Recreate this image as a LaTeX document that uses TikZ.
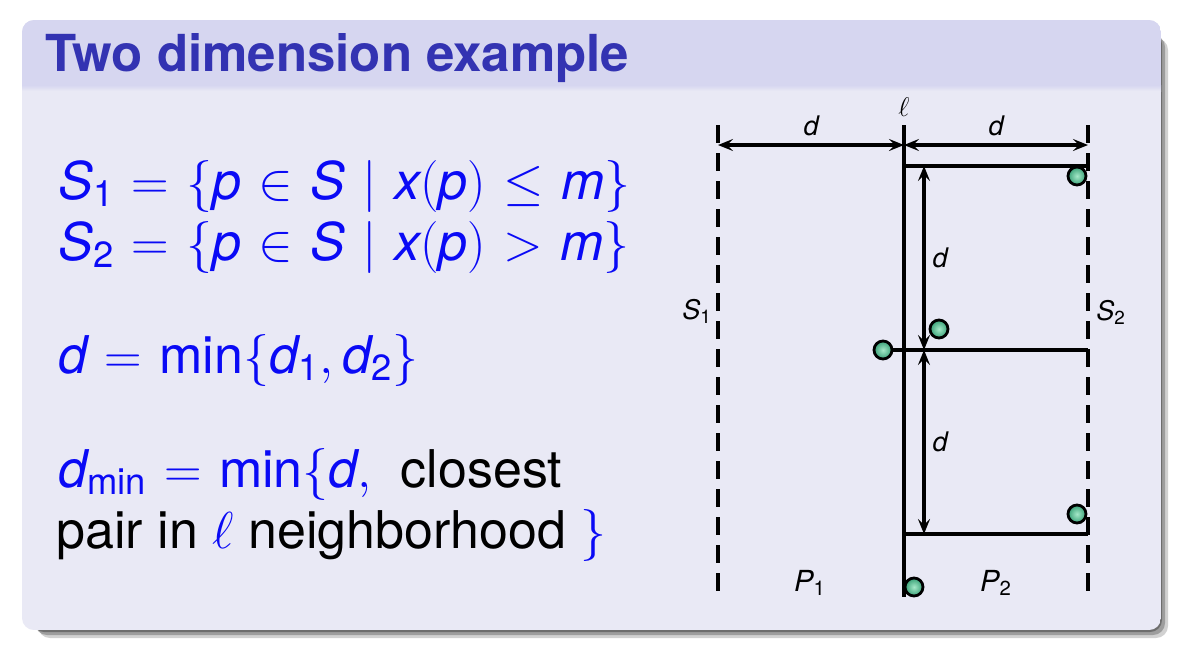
\RequirePackage{fix-cm}
\documentclass[tikz,border=0pt]{standalone}
\usepackage{amsmath}
\usepackage{fontspec}
\setmainfont{TeX Gyre Heros}
\usetikzlibrary{arrows.meta}

\definecolor{blockbody}{RGB}{233,233,245}
\definecolor{blocktitle}{RGB}{214,214,240}
\definecolor{titlefg}{RGB}{51,51,178}
\definecolor{formblue}{RGB}{10,10,245}
\definecolor{ptouter}{RGB}{55,160,118}
\definecolor{ptinner}{RGB}{165,232,200}

\newcommand{\iv}[1]{\text{\itshape #1}}
\newcommand{\uv}[1]{\text{#1}}
\thickmuskip=6mu plus 5mu\relax

\begin{document}
\begin{tikzpicture}[x=0.5pt,y=-0.5pt,
        sepline/.style={line width=2pt,dash pattern=on 9pt off 5pt},
        mline/.style={line width=2pt},
        dimarrow/.style={line width=2pt,{Stealth[length=7.5pt,width=6pt,inset=3pt]}-{Stealth[length=7.5pt,width=6pt,inset=3pt]}},
        pt/.style={circle,draw,line width=1.4pt,minimum size=9pt,inner sep=0pt,inner color=ptinner,outer color=ptouter},
        lbl/.style={font=\fontsize{13.5}{16}\selectfont},
        eq/.style={anchor=base west,inner sep=0pt,font=\fontsize{26}{31}\selectfont,text=formblue}]

    \useasboundingbox (0,0) rectangle (1178,650);

    % block with shadow
    \foreach \o/\op in {2/0.30,5/0.25,8/0.18}
        \fill[black,opacity=\op,rounded corners=6pt] (30+\o,30+\o) rectangle (1160+\o,630+\o);
    \begin{scope}
        \clip[rounded corners=6pt] (22,20) rectangle (1161,630);
        \fill[blockbody] (22,20) rectangle (1161,630);
        \fill[blocktitle] (22,20) rectangle (1161,85);
        \shade[top color=blocktitle,bottom color=blockbody] (22,85) rectangle (1161,91);
    \end{scope}

    \node[anchor=base west,inner sep=0pt,text=titlefg,font=\fontsize{25.5}{30}\selectfont\bfseries] (title) at (45,71) {Two dimension example};

    % formulas
    \node[eq] (eqa) at (58,199) {$\iv{S}_{\uv{1}} = \{\iv{p} \in \iv{S} \mid \iv{x}(\iv{p}) \leq \iv{m}\}$};
    \node[eq] (eqb) at (58,260) {$\iv{S}_{\uv{2}} = \{\iv{p} \in \iv{S} \mid \iv{x}(\iv{p}) > \iv{m}\}$};
    \node[eq] (eqc) at (58,373) {$\iv{d} = \uv{min}\{\iv{d}_{\uv{1}}, \iv{d}_{\uv{2}}\}$};
    \node[eq] (eqd) at (58,487) {$\iv{d}_{\uv{min}} = \uv{min}\{\iv{d},\ $ \textcolor{black}{closest}};
    \node[eq,text=black] (eqe) at (56,548) {pair in \textcolor{formblue}{$\ell$} neighborhood \textcolor{formblue}{$\}$}};

    % separating lines
    \coordinate (s1top) at (718,125);
    \coordinate (s1bot) at (718,597);
    \coordinate (ltop) at (904,125);
    \coordinate (lbot) at (904,597);
    \coordinate (s2top) at (1088,125);
    \coordinate (s2bot) at (1088,597);
    \draw[sepline] (s1top) -- (s1bot);
    \draw[sepline] (s2top) -- (s2bot);
    \draw[mline] (ltop) -- (lbot);
    \node[lbl] (ell) at (904,107) {$\ell$};

    % d to each side
    \coordinate (da) at (718,145);
    \coordinate (db) at (904,145);
    \coordinate (dc) at (1088,145);
    \draw[dimarrow] (da) -- node[lbl,above] {\itshape d} (db);
    \draw[dimarrow] (db) -- node[lbl,above] {\itshape d} (dc);

    % points
    \node[pt] (p1) at (1077,176) {};
    \node[pt] (p2) at (939,329) {};
    \node[pt] (p3) at (883,350) {};
    \node[pt] (p4) at (1077,514) {};
    \node[pt] (p5) at (914,587) {};

    % d x 2d boxes
    \coordinate (ha) at (904,166);
    \coordinate (hb) at (1088,166);
    \coordinate (hc) at (1088,350);
    \coordinate (hd) at (904,534);
    \coordinate (he) at (1088,534);
    \draw[mline] (ha) -- (hb);
    \draw[mline] (p3) -- (hc);
    \draw[mline] (hd) -- (he);

    \coordinate (va) at (924,166);
    \coordinate (vb) at (924,350);
    \coordinate (vc) at (924,534);
    \draw[dimarrow] (va) -- node[lbl,right] {\itshape d} (vb);
    \draw[dimarrow] (vb) -- node[lbl,right] {\itshape d} (vc);

    % labels
    \node[lbl] (s1) at (697,311) {$\iv{S}_{\uv{1}}$};
    \node[lbl] (s2) at (1111,312) {$\iv{S}_{\uv{2}}$};
    \node[lbl,font=\fontsize{14.5}{17}\selectfont] (pa) at (810,583) {$\iv{P}_{\uv{1}}$};
    \node[lbl,font=\fontsize{14.5}{17}\selectfont] (pb) at (996,583) {$\iv{P}_{\uv{2}}$};
\end{tikzpicture}
\end{document}
